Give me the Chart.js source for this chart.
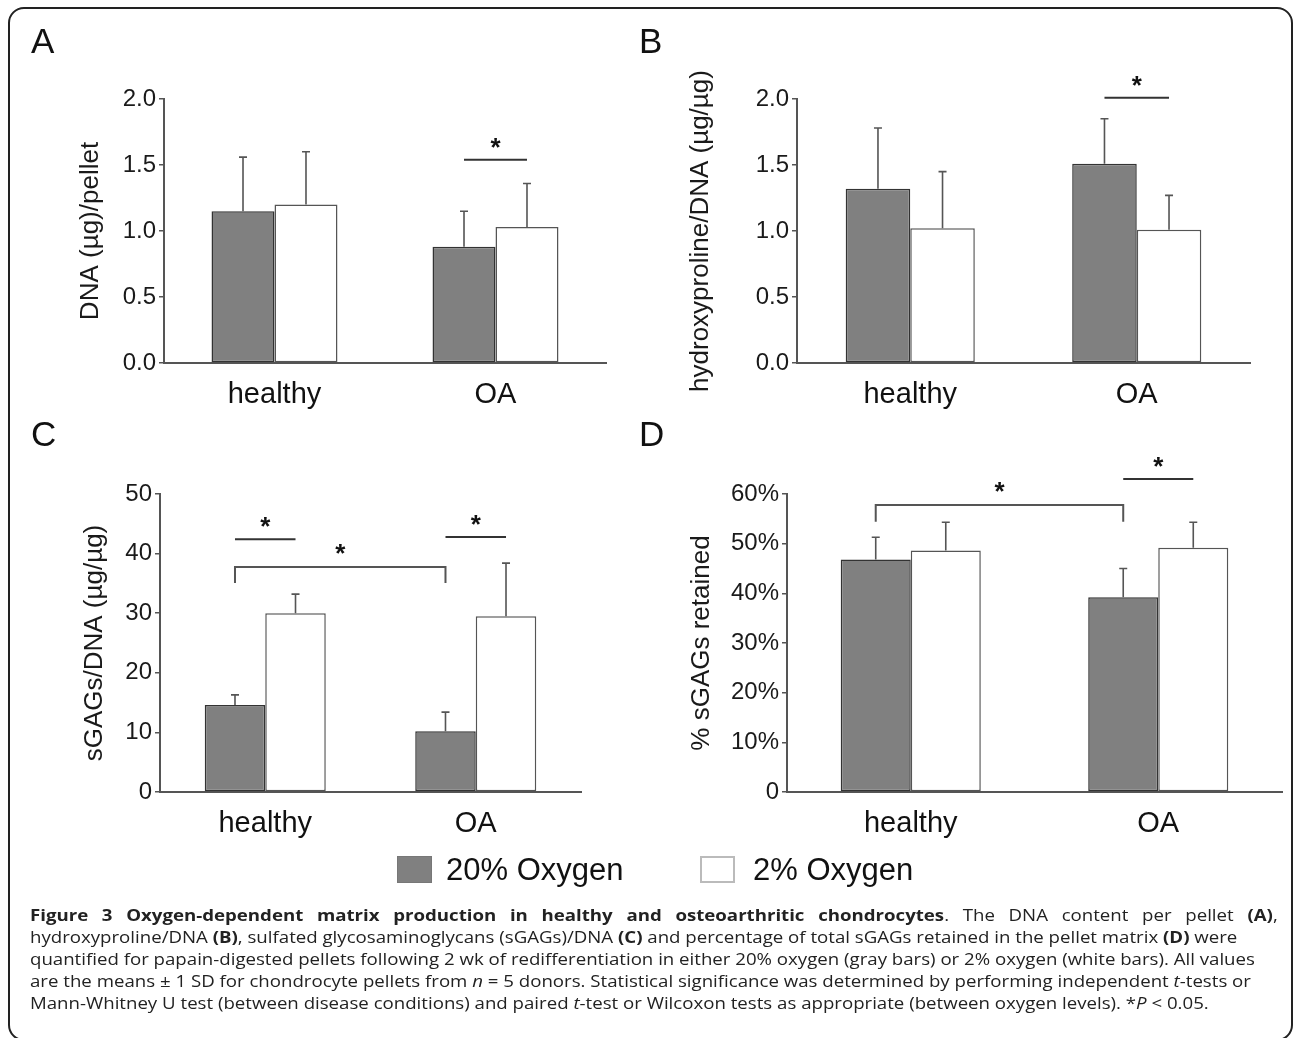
<!DOCTYPE html>
<html>
<head>
<meta charset="utf-8">
<script src="https://cdn.jsdelivr.net/npm/chart.js@4.4.1/dist/chart.umd.min.js"></script>
<style>
  html, body { margin: 0; padding: 0; background: #fff; }
  #page { position: relative; width: 1293px; height: 1038px; overflow: hidden; font-family: "Liberation Sans", Arial, sans-serif; }
  #frame { position: absolute; left: 8px; top: 7px; width: 1285px; height: 1034px; border: 2px solid #222; border-radius: 16px; box-sizing: border-box; }
  canvas.panel { position: absolute; left: 0; top: 0; }
  .lbl { position: absolute; font-size: 35px; line-height: 35px; color: #111; }
  .legend { position: absolute; top: 851px; font-size: 31px; line-height: 37px; color: #111; }
  .sw { position: absolute; top: 5px; width: 35px; height: 27px; box-sizing: border-box; }
  /* the figure is a little wider than its font, so stretch the caption sideways */
  .caption { position: absolute; left: 30px; top: 904px; font-family: "Open Sans", sans-serif; font-size: 16px; line-height: 22px; color: #222;
             transform: scaleX(1.165); transform-origin: 0 0; }
  .caption div { white-space: nowrap; }
  .caption .just { width: 1071px; text-align: justify; text-align-last: justify; }
</style>
</head>
<body>
<div id="page">
  <div id="frame"></div>
  <canvas class="panel" id="chartA" width="1293" height="1038"></canvas>
  <canvas class="panel" id="chartB" width="1293" height="1038"></canvas>
  <canvas class="panel" id="chartC" width="1293" height="1038"></canvas>
  <canvas class="panel" id="chartD" width="1293" height="1038"></canvas>

  <div class="lbl" style="left:31px;top:23px">A</div>
  <div class="lbl" style="left:639px;top:23px">B</div>
  <div class="lbl" style="left:31px;top:416px">C</div>
  <div class="lbl" style="left:639px;top:416px">D</div>

  <div class="legend" style="left:397px">
    <div class="sw" style="left:0;background:#808080;border:1px solid #777"></div>
    <span style="position:absolute;left:49px;white-space:nowrap">20% Oxygen</span>
  </div>
  <div class="legend" style="left:700px">
    <div class="sw" style="left:0;background:#fff;border:2px solid #bbb"></div>
    <span style="position:absolute;left:53px;white-space:nowrap">2% Oxygen</span>
  </div>

  <div class="caption">
    <div class="just"><b>Figure 3 Oxygen-dependent matrix production in healthy and osteoarthritic chondrocytes</b>. The DNA content per pellet <b>(A)</b>,</div>
    <div>hydroxyproline/DNA <b>(B)</b>, sulfated glycosaminoglycans (sGAGs)/DNA <b>(C)</b> and percentage of total sGAGs retained in the pellet matrix <b>(D)</b> were</div>
    <div>quantified for papain-digested pellets following 2 wk of redifferentiation in either 20% oxygen (gray bars) or 2% oxygen (white bars). All values</div>
    <div>are the means ± 1 SD for chondrocyte pellets from <i>n</i> = 5 donors. Statistical significance was determined by performing independent <i>t</i>-tests or</div>
    <div>Mann-Whitney U test (between disease conditions) and paired <i>t</i>-test or Wilcoxon tests as appropriate (between oxygen levels). *<i>P</i> &lt; 0.05.</div>
  </div>
</div>

<script>
// ---- data ----
const categories = ['healthy', 'OA'];
const seriesNames = ['20% Oxygen', '2% Oxygen'];

// A: DNA (ug)/pellet
const dnaGray = [1.15, 0.88];
const dnaGraySD = [0.41, 0.27];
const dnaWhite = [1.20, 1.03];
const dnaWhiteSD = [0.40, 0.33];

// B: hydroxyproline/DNA
const hypGray = [1.32, 1.51];
const hypGraySD = [0.46, 0.34];
const hypWhite = [1.02, 1.01];
const hypWhiteSD = [0.43, 0.26];

// C: sGAGs/DNA
const gagGray = [14.6, 10.2];
const gagGraySD = [1.7, 3.2];
const gagWhite = [30.0, 29.5];
const gagWhiteSD = [3.2, 8.9];

// D: % sGAGs retained
const retGray = [46.8, 39.2];
const retGraySD = [4.5, 5.8];
const retWhite = [48.6, 49.2];
const retWhiteSD = [5.7, 5.1];

// significance marks: within-category lines and healthy-vs-OA brackets (data units)
const sigA = { pairs: [{ cat: 1, level: 1.54 }], brackets: [] };
const sigB = { pairs: [{ cat: 1, level: 2.01 }], brackets: [] };
const sigC = { pairs: [{ cat: 0, level: 42.4 }, { cat: 1, level: 42.8 }], brackets: [{ level: 37.75, drop: 2.7 }] };
const sigD = { pairs: [{ cat: 1, level: 63.0 }], brackets: [{ level: 57.8, drop: 3.4 }] };

const FONT = '"Liberation Sans", Arial, sans-serif';

// error bars (upper only) + significance lines and stars
const markPlugin = {
    id: 'marks',
    afterDatasetsDraw(chart, args, opts) {
        const ctx = chart.ctx;
        const y = chart.scales.y;
        ctx.save();
        ctx.strokeStyle = '#555';
        ctx.lineWidth = 1.6;
        chart.data.datasets.forEach((ds, i) => {
            chart.getDatasetMeta(i).data.forEach((bar, j) => {
                const top = y.getPixelForValue(ds.data[j] + ds.sd[j]);
                ctx.beginPath();
                ctx.moveTo(bar.x, bar.y);
                ctx.lineTo(bar.x, top);
                ctx.moveTo(bar.x - 4, top);
                ctx.lineTo(bar.x + 4, top);
                ctx.stroke();
            });
        });

        const g = chart.getDatasetMeta(0).data;
        const w = chart.getDatasetMeta(1).data;
        const star = (x, yy) => {
            ctx.fillStyle = '#111';
            ctx.font = 'bold 26px ' + FONT;
            ctx.textAlign = 'center';
            ctx.textBaseline = 'alphabetic';
            ctx.fillText('*', x, yy + 3);
        };
        ctx.lineWidth = 2;
        ctx.strokeStyle = '#333';
        (opts.pairs || []).forEach(p => {
            const yy = y.getPixelForValue(p.level);
            ctx.beginPath();
            ctx.moveTo(g[p.cat].x, yy);
            ctx.lineTo(w[p.cat].x, yy);
            ctx.stroke();
            star((g[p.cat].x + w[p.cat].x) / 2, yy - 7);
        });
        ctx.strokeStyle = '#555';
        (opts.brackets || []).forEach(b => {
            const yy = y.getPixelForValue(b.level);
            const yb = y.getPixelForValue(b.level - b.drop);
            ctx.beginPath();
            ctx.moveTo(g[0].x, yb);
            ctx.lineTo(g[0].x, yy);
            ctx.lineTo(g[1].x, yy);
            ctx.lineTo(g[1].x, yb);
            ctx.stroke();
            star((g[0].x + g[1].x) / 2, yy - 8);
        });
        ctx.restore();
    }
};

function makePanel(id, cfg) {
    new Chart(document.getElementById(id), {
        type: 'bar',
        data: {
            labels: categories,
            datasets: [
                { label: seriesNames[0], data: cfg.gray, sd: cfg.graySD, backgroundColor: '#808080', borderColor: '#333', borderWidth: 1.5, borderSkipped: false },
                { label: seriesNames[1], data: cfg.white, sd: cfg.whiteSD, backgroundColor: '#fff', borderColor: '#555', borderWidth: 1.5, borderSkipped: false }
            ]
        },
        options: {
            responsive: false,
            animation: false,
            events: [],
            categoryPercentage: cfg.catPct,
            barPercentage: 1,
            layout: { padding: cfg.pad },
            plugins: { legend: { display: false }, tooltip: { enabled: false }, marks: cfg.sig },
            scales: {
                x: {
                    grid: { display: false },
                    border: { color: '#555', width: 2 },
                    ticks: { font: { family: FONT, size: 29 }, color: '#111', padding: 7 },
                    afterFit(s) { s.height = 50; }
                },
                y: {
                    min: 0, max: cfg.max,
                    ticks: { stepSize: cfg.step, callback: cfg.fmt, font: { family: FONT, size: 24 }, color: '#1a1a1a', padding: 3 },
                    grid: { drawOnChartArea: false, drawTicks: true, tickLength: 5, color: '#555', lineWidth: 1.5 },
                    border: { color: '#555', width: 2 },
                    title: { display: true, text: cfg.title, font: { family: FONT, size: 26 }, color: '#1a1a1a', padding: 0 },
                    afterFit(s) { s.width = cfg.axisW; }
                }
            }
        },
        plugins: [markPlugin]
    });
}

const fmt1 = v => v.toFixed(1);

makePanel('chartA', {
    gray: dnaGray, graySD: dnaGraySD, white: dnaWhite, whiteSD: dnaWhiteSD,
    max: 2, step: 0.5, fmt: fmt1, title: 'DNA (\u00b5g)/pellet', sig: sigA, catPct: 0.57,
    axisW: 88.6, pad: { left: 75.4, top: 99, right: 1293 - 606, bottom: 1038 - 363 - 50 }
});
makePanel('chartB', {
    gray: hypGray, graySD: hypGraySD, white: hypWhite, whiteSD: hypWhiteSD,
    max: 2, step: 0.5, fmt: fmt1, title: 'hydroxyproline/DNA (\u00b5g/\u00b5g)', sig: sigB, catPct: 0.57,
    axisW: 111.6, pad: { left: 685.4, top: 99, right: 1293 - 1250, bottom: 1038 - 363 - 50 }
});
makePanel('chartC', {
    gray: gagGray, graySD: gagGraySD, white: gagWhite, whiteSD: gagWhiteSD,
    max: 50, step: 10, fmt: v => String(v), title: 'sGAGs/DNA (\u00b5g/\u00b5g)', sig: sigC, catPct: 0.575,
    axisW: 80.6, pad: { left: 79.4, top: 494, right: 1293 - 581, bottom: 1038 - 792 - 50 }
});
makePanel('chartD', {
    gray: retGray, graySD: retGraySD, white: retWhite, whiteSD: retWhiteSD,
    max: 60, step: 10, fmt: v => v === 0 ? '0' : v + '%', title: '% sGAGs retained', sig: sigD, catPct: 0.566,
    axisW: 100.6, pad: { left: 686.4, top: 494, right: 1293 - 1282, bottom: 1038 - 792 - 50 }
});
</script>
</body>
</html>
